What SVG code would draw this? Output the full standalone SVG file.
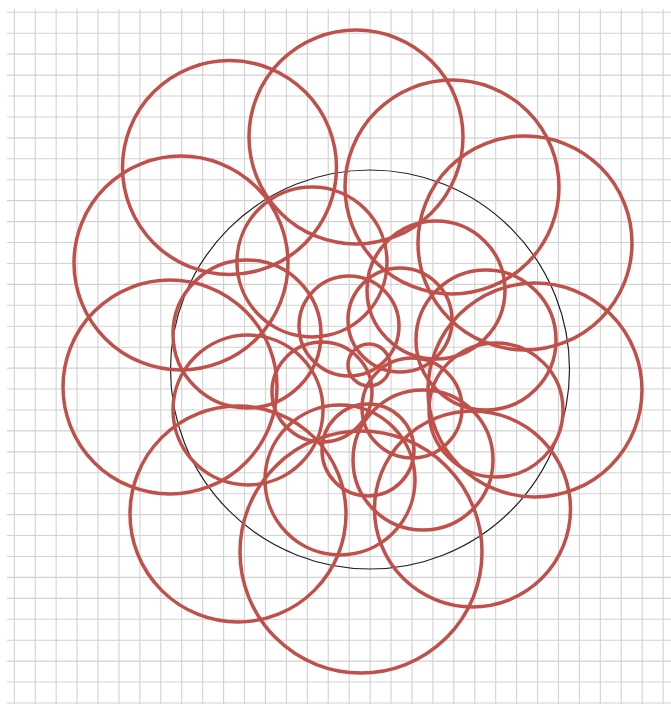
<svg xmlns="http://www.w3.org/2000/svg" width="671" height="704" viewBox="0 0 671 704">
<style>
.grid{stroke:#d2d2d2;stroke-width:1.1;fill:none}
.rc{fill:none;stroke:#c0504a;stroke-width:3.5}
.bc{fill:none;stroke:#222;stroke-width:1.2}
</style>
<rect width="671" height="704" fill="#fff"/>
<path class="grid" d="M14.3 9V704M35.23 9V704M56.16 9V704M77.09 9V704M98.02 9V704M118.95 9V704M139.88 9V704M160.81 9V704M181.74 9V704M202.67 9V704M223.6 9V704M244.53 9V704M265.46 9V704M286.39 9V704M307.32 9V704M328.25 9V704M349.18 9V704M370.11 9V704M391.04 9V704M411.97 9V704M432.9 9V704M453.83 9V704M474.76 9V704M495.69 9V704M516.62 9V704M537.55 9V704M558.48 9V704M579.41 9V704M600.34 9V704M621.27 9V704M642.2 9V704M663.13 9V704
M7 12.3H671M7 33.23H671M7 54.16H671M7 75.09H671M7 96.02H671M7 116.95H671M7 137.88H671M7 158.81H671M7 179.74H671M7 200.67H671M7 221.6H671M7 242.53H671M7 263.46H671M7 284.39H671M7 305.32H671M7 326.25H671M7 347.18H671M7 368.11H671M7 389.04H671M7 409.97H671M7 430.9H671M7 451.83H671M7 472.76H671M7 493.69H671M7 514.62H671M7 535.55H671M7 556.48H671M7 577.41H671M7 598.34H671M7 619.27H671M7 640.2H671M7 661.13H671M7 682.06H671M7 702.99H671"/>
<circle class="bc" cx="370" cy="369.5" r="199.5"/>
<g id="outer">
<circle class="rc" cx="356" cy="137" r="107"/>
<circle class="rc" cx="229.5" cy="167.5" r="107"/>
<circle class="rc" cx="452" cy="187" r="107"/>
<circle class="rc" cx="525" cy="243" r="107"/>
<circle class="rc" cx="181" cy="263" r="107"/>
<circle class="rc" cx="170" cy="387" r="107"/>
<circle class="rc" cx="535" cy="390" r="107"/>
<circle class="rc" cx="238" cy="514" r="108"/>
<circle class="rc" cx="361" cy="552" r="121"/>
<circle class="rc" cx="472.5" cy="509" r="98"/>
</g>
<g id="middle">
<circle class="rc" cx="312" cy="262" r="75"/>
<circle class="rc" cx="436" cy="290" r="69"/>
<circle class="rc" cx="486" cy="340" r="70"/>
<circle class="rc" cx="247" cy="334" r="74"/>
<circle class="rc" cx="248" cy="410" r="75"/>
<circle class="rc" cx="340" cy="480" r="75"/>
<circle class="rc" cx="423" cy="460" r="70"/>
<circle class="rc" cx="496" cy="410" r="67"/>
</g>
<g id="inner">
<circle class="rc" cx="349" cy="326" r="50"/>
<circle class="rc" cx="400" cy="320" r="52"/>
<circle class="rc" cx="369" cy="365" r="21"/>
<circle class="rc" cx="412" cy="408" r="50"/>
<circle class="rc" cx="368" cy="450" r="46"/>
<circle class="rc" cx="322" cy="392" r="50"/>
</g>
</svg>
